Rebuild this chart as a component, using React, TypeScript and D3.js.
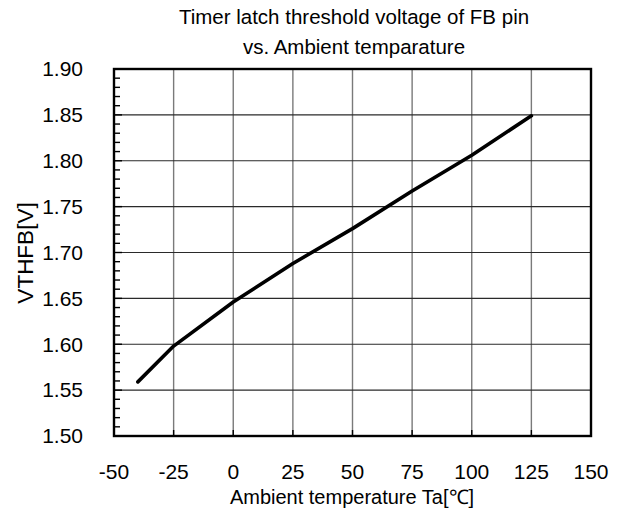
import React from "react";
import * as d3 from "d3";

const temps = [-40, -25, 0, 25, 50, 75, 100, 125];
const vthfb = [1.559, 1.598, 1.646, 1.688, 1.726, 1.767, 1.806, 1.849];
const xTicks = [-50, -25, 0, 25, 50, 75, 100, 125, 150];
const yTicks = [1.5, 1.55, 1.6, 1.65, 1.7, 1.75, 1.8, 1.85, 1.9];
const titleLines = ["Timer latch threshold voltage of FB pin", "vs. Ambient temparature"];
const xTitle = "Ambient temperature Ta[℃]";
const yTitle = "VTHFB[V]";

const W = 629, H = 513;
const L = 114, R = 591, T = 69, B = 436;
const FONT = "'Liberation Sans', Arial, sans-serif";

export default function App() {
  const x = d3.scaleLinear().domain([-50, 150]).range([L, R]);
  const y = d3.scaleLinear().domain([1.5, 1.9]).range([B, T]);
  const minor = d3.range(150, 191).map((v) => v / 100).filter((v) => Math.round(v * 100) % 5 !== 0);
  const line = d3
    .line<number>()
    .x((_, i) => x(temps[i]))
    .y((d) => y(d));
  return (
    <svg width={W} height={H} style={{ position: "absolute", left: 0, top: 0, background: "#fff" }}>
      <rect x={0} y={0} width={W} height={H} fill="#fff" />
      {xTicks.slice(1, -1).map((t) => (
        <line key={"vx" + t} x1={x(t)} x2={x(t)} y1={T} y2={B} stroke="#7a7a7a" strokeWidth={1.4} />
      ))}
      {xTicks.slice(1, -1).map((t) => (
        <line key={"bx" + t} x1={x(t)} x2={x(t)} y1={B - 6} y2={B} stroke="#000" strokeWidth={1.4} />
      ))}
      {yTicks.slice(1, -1).map((t) => (
        <line key={"hy" + t} x1={L} x2={R} y1={y(t)} y2={y(t)} stroke="#2a2a2a" strokeWidth={1.2} />
      ))}
      {minor.map((t) => (
        <line key={"m" + t} x1={L} x2={L + 6} y1={y(t)} y2={y(t)} stroke="#000" strokeWidth={1.4} />
      ))}
      {yTicks.map((t) => (
        <line key={"M" + t} x1={L} x2={L + 8} y1={y(t)} y2={y(t)} stroke="#000" strokeWidth={1.4} />
      ))}
      <rect x={L} y={T} width={R - L} height={B - T} fill="none" stroke="#000" strokeWidth={2.4} />
      <path d={line(vthfb) || ""} fill="none" stroke="#000" strokeWidth={3.6} strokeLinecap="round" strokeLinejoin="round" />
      {yTicks.map((t) => (
        <text key={"yl" + t} x={L - 31} y={y(t)} dy="0.35em" textAnchor="end" fontFamily={FONT} fontSize={21} fill="#000">
          {t.toFixed(2)}
        </text>
      ))}
      {xTicks.map((t) => (
        <text key={"xl" + t} x={x(t)} y={479} textAnchor="middle" fontFamily={FONT} fontSize={21} fill="#000">
          {t}
        </text>
      ))}
      {titleLines.map((s, i) => (
        <text key={"t" + i} x={354} y={24 + i * 30} textAnchor="middle" fontFamily={FONT} fontSize={20.5} fill="#000">
          {s}
        </text>
      ))}
      <text x={352} y={504} textAnchor="middle" fontFamily={FONT} fontSize={20} fill="#000">
        {xTitle}
      </text>
      <text transform={`translate(33,253) rotate(-90)`} textAnchor="middle" fontFamily={FONT} fontSize={22.5} fill="#000">
        {yTitle}
      </text>
    </svg>
  );
}
